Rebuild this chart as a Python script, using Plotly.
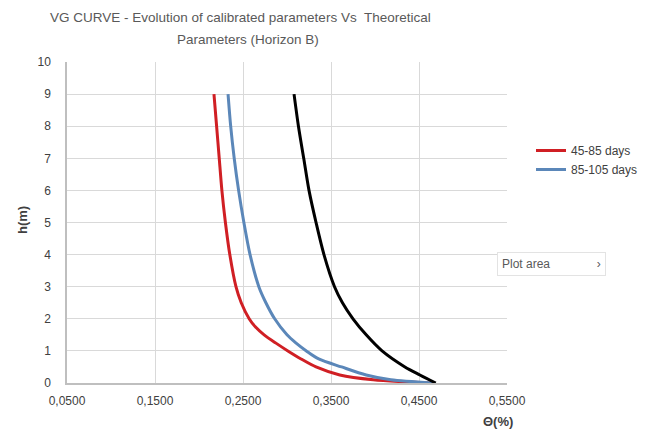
import plotly.graph_objects as go

# Theoretical curve (black)
h_theo = [9, 8, 7, 6, 5, 4, 3, 2.5, 2, 1.5, 1, 0.5, 0.25, 0]
theta_theo = [0.308, 0.313, 0.319, 0.325, 0.333, 0.342, 0.354, 0.363, 0.375, 0.390, 0.408, 0.434, 0.451, 0.469]

# 45-85 days (red)
h_red = [9, 8, 7, 6, 5, 4, 3, 2.5, 2, 1.75, 1.5, 1.25, 1, 0.75, 0.5, 0.25, 0.1, 0]
theta_red = [0.217, 0.220, 0.223, 0.226, 0.230, 0.235, 0.242, 0.248, 0.257, 0.264, 0.274, 0.287,
             0.301, 0.316, 0.333, 0.360, 0.398, 0.462]

# 85-105 days (blue)
h_blue = [9, 8, 7, 6, 5, 4, 3, 2.5, 2, 1.5, 1.25, 1, 0.75, 0.5, 0.25, 0.1, 0]
theta_blue = [0.233, 0.236, 0.240, 0.245, 0.251, 0.258, 0.268, 0.276, 0.286, 0.300, 0.310, 0.322,
              0.336, 0.362, 0.390, 0.418, 0.465]

x_ticks = [0.05, 0.15, 0.25, 0.35, 0.45, 0.55]
y_ticks = list(range(0, 11))

fig = go.Figure()
fig.add_trace(go.Scatter(x=theta_red, y=h_red, mode="lines", name="45-85 days",
                         line=dict(color="#D01F24", width=3, shape="spline", smoothing=0.8)))
fig.add_trace(go.Scatter(x=theta_blue, y=h_blue, mode="lines", name="85-105 days",
                         line=dict(color="#5B87B9", width=3, shape="spline", smoothing=0.8)))
fig.add_trace(go.Scatter(x=theta_theo, y=h_theo, mode="lines", name="Theoretical",
                         showlegend=False,
                         line=dict(color="#000000", width=3, shape="spline", smoothing=0.8)))

OFF = 8  # browser body margin
W, H = 659 - OFF, 434 - OFF
PL, PR, PT, PB = 67, 507, 62, 383  # target plot-area pixel edges (page coordinates)
L, R, T, B = PL - OFF, W - (PR - OFF), PT - OFF, H - (PB - OFF)
PW, PH = PR - PL, PB - PT


def px(xp):
    return (xp - PL) / PW


def py(yp):
    return (PB - yp) / PH


fig.update_layout(
    width=W, height=H,
    margin=dict(l=L, r=R, t=T, b=B),
    paper_bgcolor="white", plot_bgcolor="white",
    separators=",.",
    font=dict(family="Liberation Sans, Arial, sans-serif", color="#404040", size=12),
    xaxis=dict(range=[0.05, 0.55], tickvals=x_ticks, tickformat=".4f",
               showgrid=True, gridcolor="#D9D9D9", gridwidth=1,
               showline=True, linecolor="#BFBFBF", linewidth=1.5,
               zeroline=False, ticks="", ticklabelstandoff=6,
               tickfont=dict(size=12, color="#404040")),
    yaxis=dict(range=[0, 10], tickvals=y_ticks,
               showgrid=True, gridcolor="#D9D9D9", gridwidth=1,
               showline=True, linecolor="#BFBFBF", linewidth=1.5,
               zeroline=False, ticks="", ticklabelstandoff=12,
               tickfont=dict(size=12, color="#404040")),
    legend=dict(x=px(531), y=py(136),
                xanchor="left", yanchor="top",
                font=dict(size=12, color="#404040"),
                bgcolor="rgba(0,0,0,0)"),
    annotations=[
        dict(text="VG CURVE - Evolution of calibrated parameters Vs  Theoretical",
             x=px(240), y=py(18), xref="paper", yref="paper", showarrow=False,
             xanchor="center", yanchor="middle",
             font=dict(size=13.5, color="#595959")),
        dict(text="Parameters (Horizon B)",
             x=px(248), y=py(39), xref="paper", yref="paper", showarrow=False,
             xanchor="center", yanchor="middle",
             font=dict(size=13.5, color="#595959")),
        dict(text="<b>h(m)</b>", x=px(22), y=py(220), xref="paper", yref="paper",
             textangle=-90, showarrow=False, font=dict(size=13, color="#404040"),
             xanchor="center", yanchor="middle"),
        dict(text="<b>Θ(%)</b>", x=px(498), y=py(422),
             xref="paper", yref="paper", showarrow=False,
             font=dict(size=13, color="#404040"), xanchor="center", yanchor="middle"),
        dict(text="Plot area" + "&nbsp;" * 14 + "›", x=px(497),
             y=py(264), xref="paper", yref="paper", showarrow=False,
             xanchor="left", yanchor="middle", align="left",
             font=dict(size=12, color="#595959"),
             bgcolor="white", bordercolor="#E3E3E3", borderwidth=1, borderpad=4),
    ],
)

fig.write_html("out.html")
